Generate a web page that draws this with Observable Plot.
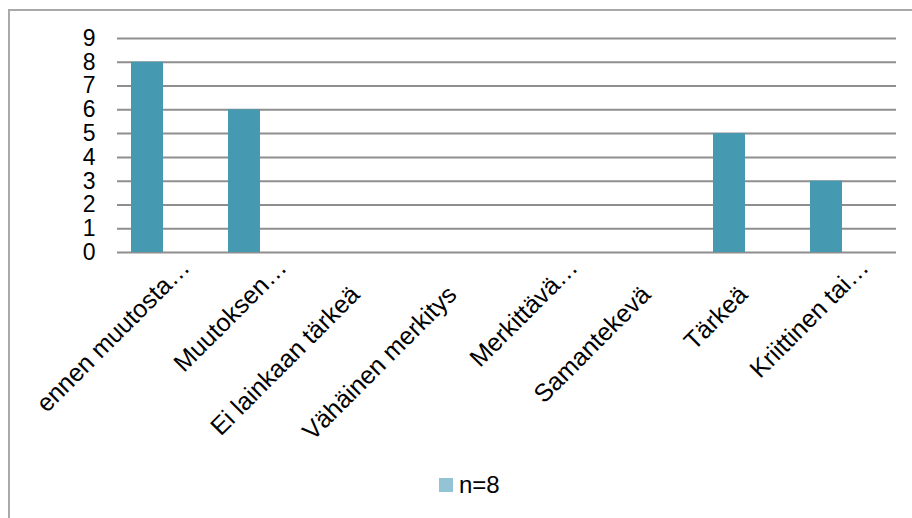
<!DOCTYPE html>
<html>
<head>
<meta charset="utf-8">
<script src="https://cdn.jsdelivr.net/npm/d3@7"></script>
<script src="https://cdn.jsdelivr.net/npm/@observablehq/plot@0.6"></script>
<style>
  html, body { margin: 0; padding: 0; background: #fff; width: 912px; height: 518px; overflow: hidden; }
  #frame { position: absolute; left: 8px; top: 9px; width: 920px; height: 520px;
           border-left: 2px solid #a9a9a9; border-top: 2px solid #a9a9a9; box-sizing: border-box; }
  #chart { position: absolute; left: 0; top: 0; }
  #legend { position: absolute; left: 439px; top: 471px; display: flex; align-items: center;
            font-family: "Liberation Sans", Arial, sans-serif; font-size: 24px; color: #000; }
  #legend .sw { width: 14px; height: 14px; background: #93c4d6; margin-right: 6px; }
</style>
</head>
<body>
<div id="frame"></div>
<div id="chart"></div>
<div id="legend"><span class="sw"></span><span id="legend-label"></span></div>
<script>
const categories = ["ennen muutosta…", "Muutoksen…", "Ei lainkaan tärkeä", "Vähäinen merkitys",
                    "Merkittävä…", "Samantekevä", "Tärkeä", "Kriittinen tai…"];
const values = [8, 6, 0, 0, 0, 0, 5, 3];
const yTicks = [0, 1, 2, 3, 4, 5, 6, 7, 8, 9];
const seriesName = "n=8";

const data = categories.map((c, i) => ({cat: c, value: values[i]}));
const truncated = data.filter(d => d.cat.endsWith("…"));
const full = data.filter(d => !d.cat.endsWith("…"));
const font = "Liberation Sans, Arial, sans-serif";

const chart = Plot.plot({
  width: 912,
  height: 460,
  marginLeft: 117,
  marginRight: 16,
  marginTop: 38,
  marginBottom: 208,
  style: {fontFamily: font, background: "transparent", color: "#000"},
  x: {domain: categories, range: [97.5, 876], paddingInner: 0.67, paddingOuter: 0.335, axis: null},
  y: {domain: [0, 9], axis: null},
  marks: [
    Plot.ruleY(yTicks, {stroke: "#8e8e8e", strokeWidth: 2}),
    Plot.barY(data, {x: "cat", y: "value", fill: "#4599b1"}),
    Plot.axisY({ticks: yTicks, tickSize: 0, tickPadding: 22, fontSize: 23, fill: "#000",
                label: null, tickFormat: d => String(d)}),
    Plot.text(truncated, {x: "cat", y: 0, text: "cat", rotate: -45, textAnchor: "end",
                          dx: 38, dy: 11, fontSize: 25, fill: "#000"}),
    Plot.text(full, {x: "cat", y: 0, text: "cat", rotate: -45, textAnchor: "end",
                     dx: 14, dy: 38, fontSize: 25, fill: "#000"})
  ]
});
document.getElementById("chart").appendChild(chart);
document.getElementById("legend-label").textContent = seriesName;
</script>
</body>
</html>
